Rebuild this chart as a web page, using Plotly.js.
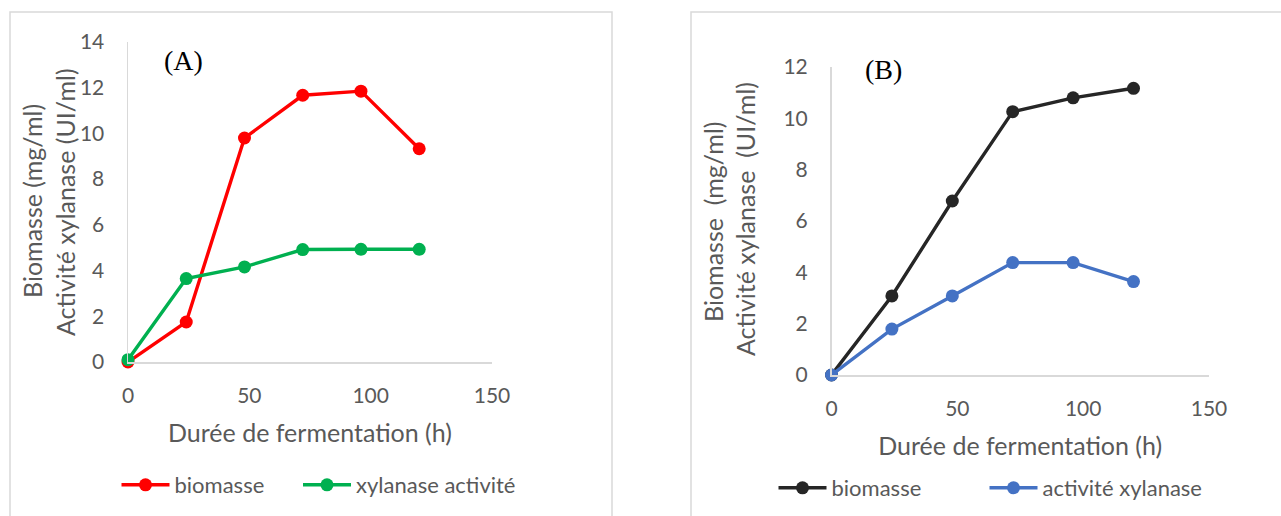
<!DOCTYPE html>
<html>
<head>
<meta charset="utf-8">
<script src="https://cdn.plot.ly/plotly-3.0.1.min.js"></script>
<style>html,body{margin:0;padding:0;background:#fff;}#chart{width:1281px;height:516px;}</style>
</head>
<body>
<div id="chart"></div>
<script>
// Data
const hours = [0, 24, 48, 72, 96, 120];
const biomasseA = [0, 1.75, 9.8, 11.67, 11.85, 9.33];
const xylanaseA = [0.1, 3.65, 4.16, 4.92, 4.93, 4.93];
const biomasseB = [0, 3.08, 6.78, 10.26, 10.8, 11.17];
const xylanaseB = [0, 1.79, 3.08, 4.38, 4.38, 3.64];
const xTickVals = [0, 50, 100, 150];
const yTickValsA = [0, 2, 4, 6, 8, 10, 12, 14];
const yTickValsB = [0, 2, 4, 6, 8, 10, 12];

const W = 1281, H = 516;
const txt = '#595959', axc = '#d9d9d9';
const fam = 'Lato, "Open Sans", sans-serif';
function px(x){return x/W;}
function py(y){return (H-y)/H;}

function trace(x, y, name, color, xa, ya, leg){
  return {x:x, y:y, name:name, type:'scatter', mode:'lines+markers',
    xaxis:xa, yaxis:ya, legend:leg, cliponaxis:false,
    line:{color:color, width:3.4}, marker:{color:color, size:13}};
}
const data = [
  trace(hours, biomasseA, 'biomasse', '#ff0000', 'x', 'y', 'legend'),
  trace(hours, xylanaseA, 'xylanase activité', '#00b050', 'x', 'y', 'legend2'),
  trace(hours, biomasseB, 'biomasse', '#262626', 'x2', 'y2', 'legend3'),
  trace(hours, xylanaseB, 'activité xylanase', '#4472c4', 'x2', 'y2', 'legend4')
];

function xax(dom, anchor){
  return {domain:dom, anchor:anchor, range:[0,150], tickvals:xTickVals,
    showline:true, linecolor:axc, linewidth:1.5, showgrid:false, zeroline:false,
    ticks:'', ticklabelstandoff:14, tickfont:{family:fam, size:21, color:txt},
    title:{text:'Durée de fermentation (h)', font:{family:fam, size:25, color:txt}, standoff:19},
    fixedrange:true};
}
function yax(dom, anchor, range, vals){
  return {domain:dom, anchor:anchor, range:range, tickvals:vals,
    showline:true, linecolor:axc, linewidth:1.5, showgrid:false, zeroline:false,
    ticks:'', ticklabelstandoff:18, tickfont:{family:fam, size:21, color:txt},
    fixedrange:true};
}
function leg(x, y){
  return {x:px(x), y:py(y), xanchor:'left', yanchor:'middle', orientation:'h',
    font:{family:fam, size:22, color:txt}, bgcolor:'rgba(0,0,0,0)', itemwidth:48};
}
function ytitle(text, x, y){
  return {text:text, xref:'paper', yref:'paper', x:px(x), y:py(y), showarrow:false,
    xanchor:'center', yanchor:'middle', textangle:-90,
    font:{family:fam, size:25, color:txt}};
}

const layout = {
  width:W, height:H, margin:{l:0, r:0, t:0, b:0},
  paper_bgcolor:'#fff', plot_bgcolor:'rgba(0,0,0,0)',
  xaxis: xax([px(128), px(492)], 'y'),
  yaxis: yax([py(362), py(42)], 'x', [0,14], yTickValsA),
  xaxis2: xax([px(831.5), px(1209)], 'y2'),
  yaxis2: yax([py(375), py(67)], 'x2', [0,12], yTickValsB),
  legend: leg(116.5, 485),
  legend2: leg(298, 485),
  legend3: leg(773.5, 488),
  legend4: leg(984.5, 488),
  showlegend:true,
  shapes:[
    {type:'rect', xref:'paper', yref:'paper', x0:px(10), x1:px(612), y0:py(540), y1:py(12), line:{color:axc, width:1.5}},
    {type:'rect', xref:'paper', yref:'paper', x0:px(691), x1:px(1300), y0:py(540), y1:py(12), line:{color:axc, width:1.5}}
  ],
  annotations:[
    ytitle('Biomasse (mg/ml)', 32, 201),
    ytitle('Activité xylanase (UI/ml)', 65, 202),
    ytitle('Biomasse  (mg/ml)', 713, 221),
    ytitle('Activité xylanase  (UI/ml)', 745, 219),
    {text:'(A)', xref:'paper', yref:'paper', x:px(183), y:py(61), showarrow:false, xanchor:'center', yanchor:'middle',
     font:{family:'"Liberation Serif", "Times New Roman", serif', size:28, color:'#000'}},
    {text:'(B)', xref:'paper', yref:'paper', x:px(883), y:py(69), showarrow:false, xanchor:'center', yanchor:'middle',
     font:{family:'"Liberation Serif", "Times New Roman", serif', size:28, color:'#000'}}
  ]
};
Plotly.newPlot('chart', data, layout, {displayModeBar:false, staticPlot:true});
</script>
</body>
</html>
